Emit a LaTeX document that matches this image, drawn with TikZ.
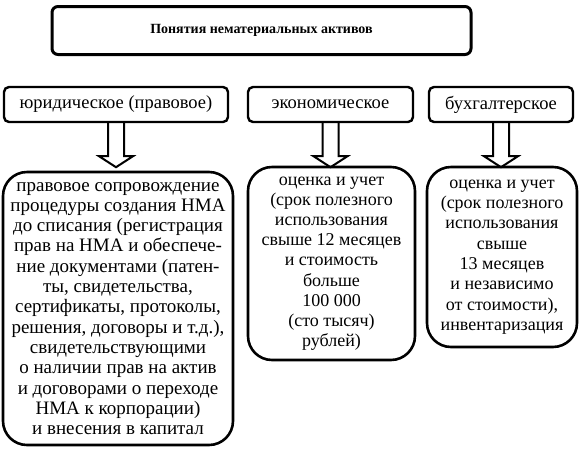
\documentclass[tikz,border=0pt]{standalone}
\usepackage{fontspec}
\setmainfont{Liberation Serif}
\usetikzlibrary{calc}
\newcommand\hollowarrow[1]{%
  \draw[arrowline] ($(#1.south)+(-8,0)$) -- ++(0,33) -- ++(-9,0)
    -- ($(#1.south)+(0,44)$) -- ($(#1.south)+(17,33)$) -- ++(-9,0)
    -- ($(#1.south)+(8,0)$);}
\begin{document}
\begin{tikzpicture}[x=1pt,y=-1pt,
  titlebox/.style={draw,line width=3pt,rounded corners=6pt,minimum width=419pt,minimum height=48pt,inner sep=0pt,font=\fontsize{14}{16}\selectfont\bfseries},
  labbox/.style={draw,line width=2.4pt,rounded corners=5pt,minimum height=35pt,inner sep=0pt,font=\fontsize{18.5}{20}\selectfont},
  bigbox/.style={draw,line width=2.6pt,rounded corners=24pt,inner sep=0pt,align=center},
  arrowline/.style={line width=2pt,line join=miter}]
\useasboundingbox (0,0) rectangle (579,451);
\node[titlebox] (t) at (261.5,30.5) {\raisebox{-3pt}{Понятия нематериальных активов}};
\node[labbox,minimum width=224pt] (l1) at (116,104.5) {юридическое (правовое)};
\node[labbox,minimum width=165pt] (l2) at (330.5,104.5) {экономическое};
\node[labbox,minimum width=144pt] (l3) at (501,104.5) {бухгалтерское};
\node[bigbox,minimum width=230pt,minimum height=273pt,font=\fontsize{19}{20.3}\selectfont] (b1) at (118,308.5) {правовое сопровождение\\
процедуры создания НМА\\
до списания (регистрация\\
прав на НМА и обеспече-\\
ние документами (патен-\\
ты, свидетельства,\\
сертификаты, протоколы,\\
решения, договоры и т.д.),\\
свидетельствующими\\
о наличии прав на актив\\
и договорами о переходе\\
НМА к корпорации)\\
и внесения в капитал};
\node[bigbox,minimum width=167pt,minimum height=193pt,font=\fontsize{18}{20.2}\selectfont] (b2) at (331.5,263.5) {оценка и учет\\
(срок полезного\\
использования\\
свыше 12 месяцев\\
и стоимость\\
больше\\
100 000\\
(сто тысяч)\\
рублей)};
\node[bigbox,minimum width=150pt,minimum height=180pt,font=\fontsize{18}{20.3}\selectfont] (b3) at (502,257) {оценка и учет\\
(срок полезного\\
использования\\
свыше\\
13 месяцев\\
и независимо\\
от стоимости),\\
инвентаризация};
\hollowarrow{l1}
\hollowarrow{l2}
\hollowarrow{l3}
\end{tikzpicture}
\end{document}
